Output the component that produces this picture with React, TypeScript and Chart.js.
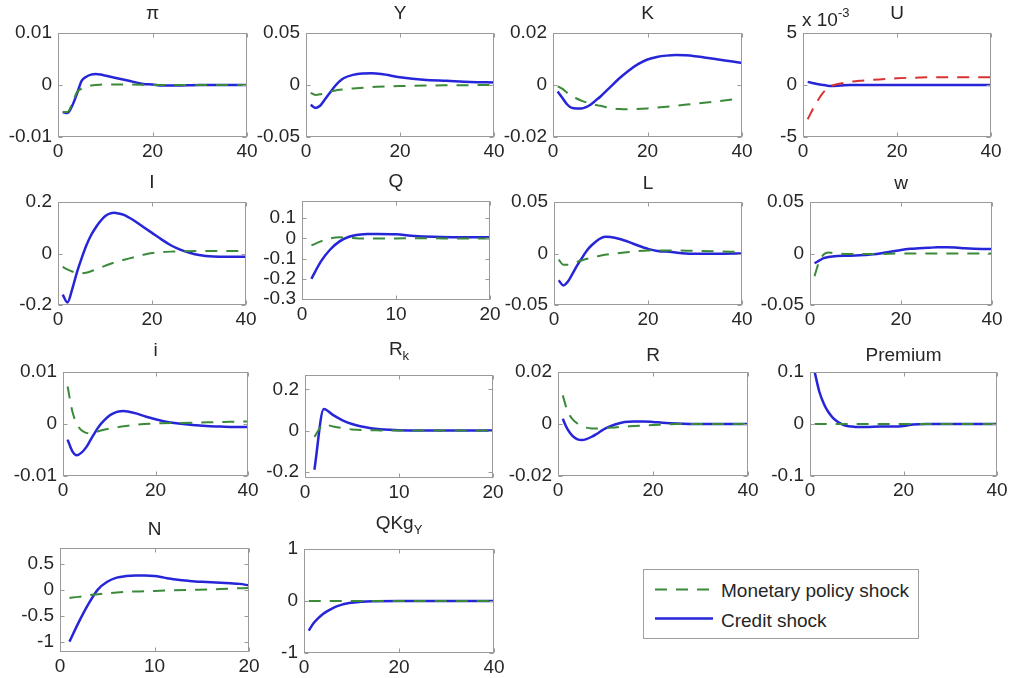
import React, { useEffect, useRef } from "react";
import { Chart, registerables } from "chart.js";

Chart.register(...registerables);

const FONT = '"Liberation Sans", Arial, Helvetica, sans-serif';
const BLUE = "#2626d8";
const GREEN = "#3a8a3a";
const RED = "#d83232";

// legend labels
const legendLabels = ["Monetary policy shock", "Credit shock"];

// x tick labels
const xTicks40 = [0, 20, 40];
const xTicks20 = [0, 10, 20];

// π
const piTicks = [-0.01, 0, 0.01];
const piCrX = [1, 2, 3, 4, 5, 6, 7, 8, 9, 10, 12, 14, 16, 18, 20, 22, 25, 30, 35, 40];
const piCrY = [-0.0052, -0.0054, -0.004, -0.0017, 0.0008, 0.0016, 0.002, 0.0021, 0.002, 0.0018, 0.0014, 0.001, 0.0006, 0.0002, 0.0001, -0.0001, -0.0001, 0, 0, 0];
const piMoX = [1, 2, 3, 4, 5, 6, 7, 8, 10, 15, 20, 30, 40];
const piMoY = [-0.0052, -0.0052, -0.0036, -0.0014, -0.0007, -0.0003, -0.0001, 0, 0.0001, 0.0001, 0, 0, 0];

// Y
const yTicksY = [-0.05, 0, 0.05];
const yCrX = [1, 2, 3, 4, 5, 6, 7, 8, 10, 12, 14, 16, 20, 25, 30, 35, 40];
const yCrY = [-0.019, -0.022, -0.02, -0.014, -0.008, -0.002, 0.003, 0.0065, 0.0097, 0.011, 0.0112, 0.0105, 0.0075, 0.005, 0.004, 0.003, 0.0025];
const yMoX = [1, 2, 3, 4, 6, 8, 10, 15, 20, 30, 40];
const yMoY = [-0.0075, -0.0095, -0.009, -0.008, -0.0055, -0.0042, -0.0033, -0.0018, -0.001, -0.0003, 0];

// K
const kTicks = [-0.02, 0, 0.02];
const kCrX = [1, 2, 3, 4, 5, 6, 7, 8, 9, 10, 12, 14, 16, 18, 20, 22, 24, 26, 28, 30, 32, 35, 38, 40];
const kCrY = [-0.0025, -0.005, -0.0075, -0.0088, -0.009, -0.009, -0.0085, -0.0075, -0.006, -0.0045, -0.001, 0.0025, 0.0055, 0.008, 0.0098, 0.0108, 0.0113, 0.0115, 0.0114, 0.0111, 0.0106, 0.0098, 0.009, 0.0085];
const kMoX = [1, 2, 3, 4, 5, 6, 8, 10, 12, 14, 16, 20, 25, 30, 35, 40];
const kMoY = [-0.0005, -0.0015, -0.003, -0.0042, -0.0052, -0.006, -0.0072, -0.008, -0.0088, -0.0092, -0.0093, -0.009, -0.0082, -0.0072, -0.0062, -0.0052];

// U (values in raw units, labels shown x 10^-3)
const uTicks = [-0.005, 0, 0.005];
const uCrX = [1, 2, 3, 4, 5, 6, 8, 10, 20, 30, 40];
const uCrY = [0.0003, 0.0002, 0.0001, 0.00003, -0.00005, -0.0001, -0.00005, 0, 0, 0, 0];
const uMoX = [1, 2, 3, 4, 5, 6, 7, 8, 10, 12, 15, 20, 25, 30, 35, 40];
const uMoY = [-0.0033, -0.0024, -0.0016, -0.0009, -0.0004, -0.0001, 0.00005, 0.00015, 0.0003, 0.0004, 0.0005, 0.00065, 0.00072, 0.00075, 0.00075, 0.00075];

// I
const iTicksI = [-0.2, 0, 0.2];
const iCrX = [1, 2, 3, 4, 5, 6, 7, 8, 9, 10, 11, 12, 13, 14, 16, 18, 20, 22, 24, 26, 28, 30, 33, 36, 40];
const iCrY = [-0.16, -0.19, -0.14, -0.075, -0.02, 0.03, 0.07, 0.1, 0.125, 0.145, 0.155, 0.158, 0.155, 0.15, 0.13, 0.105, 0.08, 0.055, 0.032, 0.015, 0.003, -0.006, -0.012, -0.013, -0.013];
const iMoX = [1, 2, 3, 4, 5, 6, 8, 10, 12, 15, 18, 20, 25, 30, 35, 40];
const iMoY = [-0.052, -0.062, -0.07, -0.075, -0.077, -0.075, -0.062, -0.048, -0.035, -0.02, -0.006, 0.002, 0.008, 0.01, 0.01, 0.01];

// Q
const qTicks = [-0.3, -0.2, -0.1, 0, 0.1];
const qCrX = [1, 2, 3, 4, 5, 6, 7, 8, 10, 12, 14, 16, 18, 20];
const qCrY = [-0.2, -0.115, -0.055, -0.015, 0.008, 0.018, 0.022, 0.022, 0.02, 0.012, 0.008, 0.006, 0.005, 0.005];
const qMoX = [1, 2, 3, 4, 5, 6, 8, 10, 12, 15, 20];
const qMoY = [-0.035, -0.015, 0, 0.005, 0.003, 0, 0, 0, 0.001, 0, 0];

// L
const lTicks = [-0.05, 0, 0.05];
const lCrX = [1, 2, 3, 4, 5, 6, 7, 8, 9, 10, 11, 12, 14, 16, 18, 20, 22, 25, 28, 32, 36, 40];
const lCrY = [-0.026, -0.031, -0.027, -0.019, -0.011, -0.004, 0.003, 0.008, 0.012, 0.015, 0.0163, 0.016, 0.014, 0.011, 0.0075, 0.0045, 0.0025, 0.0015, 0, -0.0003, -0.0002, 0];
const lMoX = [1, 2, 3, 4, 5, 6, 8, 10, 12, 15, 18, 20, 25, 30, 35, 40];
const lMoY = [-0.006, -0.011, -0.011, -0.01, -0.008, -0.0065, -0.004, -0.002, -0.0005, 0.001, 0.0025, 0.003, 0.003, 0.0025, 0.002, 0.0015];

// w
const wTicks = [-0.05, 0, 0.05];
const wCrX = [1, 2, 3, 4, 6, 8, 10, 12, 14, 16, 18, 20, 22, 24, 26, 28, 30, 32, 34, 36, 40];
const wCrY = [-0.0095, -0.007, -0.0045, -0.0035, -0.0025, -0.0022, -0.002, -0.0015, -0.0008, 0.0005, 0.002, 0.0035, 0.0045, 0.005, 0.0055, 0.006, 0.006, 0.0058, 0.005, 0.0045, 0.0043];
const wMoX = [1, 2, 3, 4, 5, 6, 8, 10, 15, 20, 25, 30, 35, 40];
const wMoY = [-0.022, -0.008, -0.001, 0.001, 0.0005, 0, -0.0005, -0.0005, -0.0005, 0, 0, 0, 0, 0];

// i
const smallITicks = [-0.01, 0, 0.01];
const siCrX = [1, 2, 3, 4, 5, 6, 7, 8, 9, 10, 11, 12, 13, 14, 16, 18, 20, 22, 25, 28, 31, 34, 37, 40];
const siCrY = [-0.003, -0.0052, -0.006, -0.0055, -0.0045, -0.003, -0.0015, -0.0002, 0.0008, 0.0016, 0.0021, 0.0024, 0.0025, 0.0024, 0.002, 0.0014, 0.0009, 0.0005, 0.0001, -0.0002, -0.0004, -0.0005, -0.0006, -0.0006];
const siMoX = [1, 2, 3, 4, 5, 6, 7, 8, 10, 12, 15, 20, 25, 30, 35, 40];
const siMoY = [0.0072, 0.0025, 0, -0.0012, -0.0017, -0.0018, -0.0016, -0.0013, -0.0009, -0.0006, -0.0002, 0.0001, 0.0002, 0.0003, 0.0004, 0.0005];

// R_k
const rkTicks = [-0.2, 0, 0.2];
const rkCrX = [1, 2, 3, 4, 5, 6, 7, 8, 9, 10, 12, 15, 20];
const rkCrY = [-0.19, 0.105, 0.075, 0.05, 0.032, 0.02, 0.012, 0.007, 0.004, 0.002, 0.001, 0, 0];
const rkMoX = [1, 2, 3, 4, 5, 6, 8, 10, 15, 20];
const rkMoY = [-0.03, 0.03, 0.02, 0.012, 0.006, 0.003, 0.001, 0, 0, 0];

// R
const rTicks = [-0.02, 0, 0.02];
const rCrX = [1, 2, 3, 4, 5, 6, 7, 8, 9, 10, 12, 14, 16, 18, 20, 22, 25, 30, 35, 40];
const rCrY = [0.002, -0.002, -0.0045, -0.0058, -0.0062, -0.0058, -0.005, -0.004, -0.0028, -0.0017, -0.0002, 0.0008, 0.001, 0.001, 0.0008, 0.0005, 0.0002, 0, 0, 0];
const rMoX = [1, 2, 3, 4, 5, 6, 7, 8, 10, 12, 15, 20, 25, 30, 40];
const rMoY = [0.011, 0.005, 0.002, 0.0003, -0.0008, -0.0014, -0.0017, -0.0017, -0.0015, -0.0013, -0.0009, -0.0004, 0, 0, 0];

// Premium
const pTicks = [-0.1, 0, 0.1];
const pCrX = [1, 2, 3, 4, 5, 6, 7, 8, 9, 10, 12, 15, 18, 20, 22, 25, 30, 35, 40];
const pCrY = [0.1, 0.062, 0.038, 0.022, 0.011, 0.004, -0.001, -0.004, -0.005, -0.006, -0.006, -0.005, -0.005, -0.004, -0.001, 0, 0, 0, 0];
const pMoX = [1, 2, 3, 5, 10, 20, 30, 40];
const pMoY = [0, 0, 0, 0, 0, 0, 0, 0];

// N
const nTicks = [-1, -0.5, 0, 0.5];
const nCrX = [1, 2, 3, 4, 5, 6, 7, 8, 9, 10, 11, 12, 13, 14, 15, 16, 17, 18, 19, 20];
const nCrY = [-1.0, -0.62, -0.28, 0.0, 0.15, 0.23, 0.26, 0.27, 0.27, 0.26, 0.23, 0.2, 0.18, 0.16, 0.15, 0.14, 0.13, 0.12, 0.11, 0.08];
const nMoX = [1, 2, 3, 4, 5, 6, 8, 10, 12, 14, 16, 18, 20];
const nMoY = [-0.16, -0.14, -0.11, -0.09, -0.07, -0.055, -0.035, -0.025, -0.015, -0.005, 0.005, 0.02, 0.03];

// QKg_Y
const qkTicks = [-1, 0, 1];
const qkCrX = [1, 2, 3, 4, 5, 6, 7, 8, 9, 10, 12, 15, 20, 30, 40];
const qkCrY = [-0.57, -0.43, -0.33, -0.25, -0.19, -0.14, -0.1, -0.07, -0.05, -0.035, -0.015, -0.005, 0, 0, 0];
const qkMoX = [1, 5, 10, 20, 30, 40];
const qkMoY = [0, 0, 0, 0, 0, 0];

type Series = { xs: number[]; ys: number[]; color: string; dash: number[]; width: number };
type PanelCfg = {
  title: string;
  sub?: string;
  box: [number, number, number, number];
  titleBase: number;
  xMax: number;
  xTicks: number[];
  yMin: number;
  yMax: number;
  yTicks: number[];
  mult?: number;
  exponent?: string;
  series: Series[];
};

const mon = (xs: number[], ys: number[], color = GREEN): Series => ({ xs, ys, color, dash: [12, 9], width: 2 });
const cr = (xs: number[], ys: number[]): Series => ({ xs, ys, color: BLUE, dash: [], width: 2.5 });

const panels: PanelCfg[] = [
  { title: "π", box: [58, 33, 247, 137], titleBase: 19, xMax: 40, xTicks: xTicks40, yMin: -0.01, yMax: 0.01, yTicks: piTicks, series: [mon(piMoX, piMoY), cr(piCrX, piCrY)] },
  { title: "Y", box: [306, 33, 494, 137], titleBase: 19, xMax: 40, xTicks: xTicks40, yMin: -0.05, yMax: 0.05, yTicks: yTicksY, series: [mon(yMoX, yMoY), cr(yCrX, yCrY)] },
  { title: "K", box: [553, 33, 742, 137], titleBase: 19, xMax: 40, xTicks: xTicks40, yMin: -0.02, yMax: 0.02, yTicks: kTicks, series: [mon(kMoX, kMoY), cr(kCrX, kCrY)] },
  { title: "U", box: [803, 33, 991, 137], titleBase: 19, xMax: 40, xTicks: xTicks40, yMin: -0.005, yMax: 0.005, yTicks: uTicks, mult: 1000, exponent: "-3", series: [mon(uMoX, uMoY, RED), cr(uCrX, uCrY)] },
  { title: "I", box: [58, 202, 246, 305], titleBase: 188, xMax: 40, xTicks: xTicks40, yMin: -0.2, yMax: 0.2, yTicks: iTicksI, series: [mon(iMoX, iMoY), cr(iCrX, iCrY)] },
  { title: "Q", box: [302, 201, 490, 300], titleBase: 187, xMax: 20, xTicks: xTicks20, yMin: -0.305, yMax: 0.185, yTicks: qTicks, series: [mon(qMoX, qMoY), cr(qCrX, qCrY)] },
  { title: "L", box: [554, 202, 742, 305], titleBase: 189, xMax: 40, xTicks: xTicks40, yMin: -0.05, yMax: 0.05, yTicks: lTicks, series: [mon(lMoX, lMoY), cr(lCrX, lCrY)] },
  { title: "w", box: [810, 202, 992, 305], titleBase: 189, xMax: 40, xTicks: xTicks40, yMin: -0.05, yMax: 0.05, yTicks: wTicks, series: [mon(wMoX, wMoY), cr(wCrX, wCrY)] },
  { title: "i", box: [63, 372, 248, 476], titleBase: 356, xMax: 40, xTicks: xTicks40, yMin: -0.01, yMax: 0.01, yTicks: smallITicks, series: [mon(siMoX, siMoY), cr(siCrX, siCrY)] },
  { title: "R", sub: "k", box: [305, 375, 493, 478], titleBase: 355, xMax: 20, xTicks: xTicks20, yMin: -0.23, yMax: 0.27, yTicks: rkTicks, series: [mon(rkMoX, rkMoY), cr(rkCrX, rkCrY)] },
  { title: "R", box: [558, 372, 748, 476], titleBase: 361, xMax: 40, xTicks: xTicks40, yMin: -0.02, yMax: 0.02, yTicks: rTicks, series: [mon(rMoX, rMoY), cr(rCrX, rCrY)] },
  { title: "Premium", box: [810, 372, 997, 476], titleBase: 361, xMax: 40, xTicks: xTicks40, yMin: -0.1, yMax: 0.1, yTicks: pTicks, series: [mon(pMoX, pMoY), cr(pCrX, pCrY)] },
  { title: "N", box: [60, 548, 249, 652], titleBase: 535, xMax: 20, xTicks: xTicks20, yMin: -1.2, yMax: 0.8, yTicks: nTicks, series: [mon(nMoX, nMoY), cr(nCrX, nCrY)] },
  { title: "QKg", sub: "Y", box: [304, 549, 494, 653], titleBase: 529, xMax: 40, xTicks: xTicks40, yMin: -1, yMax: 1, yTicks: qkTicks, series: [mon(qkMoX, qkMoY), cr(qkCrX, qkCrY)] },
];

const PADL = 62;
const PADT = 18;
const PADR = 22;
const PADB = 32;
const AXIS_COLOR = "#9a9a9a";
const TEXT_COLOR = "#262626";

const fmt = (v: number) => {
  const r = Number(v.toFixed(6));
  return Object.is(r, -0) ? "0" : String(r);
};

const boxPlugin = {
  id: "matlabBox",
  afterDatasetsDraw(chart: any) {
    const { ctx, chartArea: a, scales } = chart;
    const L = Math.round(a.left) + 0.5;
    const T = Math.round(a.top) + 0.5;
    const R = Math.round(a.right) - 0.5;
    const B = Math.round(a.bottom) - 0.5;
    ctx.save();
    ctx.strokeStyle = AXIS_COLOR;
    ctx.lineWidth = 1;
    ctx.setLineDash([]);
    ctx.strokeRect(L, T, R - L, B - T);
    const tl = 4;
    ctx.beginPath();
    scales.x.ticks.forEach((t: any) => {
      const px = Math.round(scales.x.getPixelForValue(t.value)) + 0.5;
      ctx.moveTo(px, B);
      ctx.lineTo(px, B - tl);
      ctx.moveTo(px, T);
      ctx.lineTo(px, T + tl);
    });
    scales.y.ticks.forEach((t: any) => {
      const py = Math.round(scales.y.getPixelForValue(t.value)) + 0.5;
      ctx.moveTo(L, py);
      ctx.lineTo(L + tl, py);
      ctx.moveTo(R, py);
      ctx.lineTo(R - tl, py);
    });
    ctx.stroke();
    ctx.restore();
  },
};

function Panel({ cfg }: { cfg: PanelCfg }) {
  const ref = useRef<HTMLCanvasElement | null>(null);
  const [L, T, R, B] = cfg.box;
  const W = R - L + PADL + PADR;
  const H = B - T + PADT + PADB;

  useEffect(() => {
    if (!ref.current) return;
    const mult = cfg.mult ?? 1;
    const chart = new Chart(ref.current, {
      type: "line",
      data: {
        datasets: cfg.series.map((s) => ({
          data: s.xs.map((x, i) => ({ x, y: s.ys[i] })),
          borderColor: s.color,
          borderWidth: s.width,
          borderDash: s.dash,
          pointRadius: 0,
          fill: false,
          cubicInterpolationMode: "monotone" as const,
        })),
      },
      options: {
        responsive: false,
        animation: false,
        devicePixelRatio: 1,
        events: [],
        layout: { padding: { left: 0, top: PADT, right: PADR, bottom: 0 } },
        plugins: { legend: { display: false }, tooltip: { enabled: false }, title: { display: false } },
        scales: {
          x: {
            type: "linear",
            min: 0,
            max: cfg.xMax,
            afterBuildTicks: (s: any) => {
              s.ticks = cfg.xTicks.map((v) => ({ value: v }));
            },
            afterFit: (s: any) => {
              s.height = PADB;
            },
            grid: { display: false, drawTicks: false },
            border: { display: false },
            ticks: {
              autoSkip: false,
              maxRotation: 0,
              padding: 3,
              color: TEXT_COLOR,
              font: { family: FONT, size: 19 },
              callback: (v: any) => fmt(Number(v)),
            },
          },
          y: {
            type: "linear",
            min: cfg.yMin,
            max: cfg.yMax,
            afterBuildTicks: (s: any) => {
              s.ticks = cfg.yTicks.map((v) => ({ value: v }));
            },
            afterFit: (s: any) => {
              s.width = PADL;
            },
            grid: { display: false, drawTicks: false },
            border: { display: false },
            ticks: {
              autoSkip: false,
              padding: 6,
              color: TEXT_COLOR,
              font: { family: FONT, size: 19 },
              callback: (v: any) => fmt(Number(v) * mult),
            },
          },
        },
      },
      plugins: [boxPlugin],
    });
    return () => chart.destroy();
  }, [cfg]);

  const cx = (L + R) / 2;
  return (
    <>
      <div style={{ position: "absolute", left: L - PADL, top: T - PADT, width: W, height: H }}>
        <canvas ref={ref} width={W} height={H} style={{ width: W, height: H, display: "block" }} />
      </div>
      <div
        style={{
          position: "absolute",
          left: cx - 100,
          width: 200,
          top: cfg.titleBase - 16,
          textAlign: "center",
          fontFamily: FONT,
          fontSize: 19,
          lineHeight: "19px",
          color: TEXT_COLOR,
          whiteSpace: "nowrap",
        }}
      >
        {cfg.title}
        {cfg.sub ? (
          <span style={{ fontSize: 13, position: "relative", top: 5 }}>{cfg.sub}</span>
        ) : null}
      </div>
      {cfg.exponent ? (
        <div
          style={{
            position: "absolute",
            left: L - 1,
            top: 10,
            fontFamily: FONT,
            fontSize: 19,
            lineHeight: "19px",
            color: TEXT_COLOR,
            whiteSpace: "nowrap",
          }}
        >
          x 10
          <span style={{ fontSize: 13, position: "relative", top: -9 }}>{cfg.exponent}</span>
        </div>
      ) : null}
    </>
  );
}

function Legend() {
  return (
    <div
      style={{
        position: "absolute",
        left: 643,
        top: 569,
        width: 276,
        height: 70,
        boxSizing: "border-box",
        border: "1px solid #a0a0a0",
        background: "#fff",
        fontFamily: FONT,
        fontSize: 19,
        color: TEXT_COLOR,
      }}
    >
      <svg width={276} height={70} style={{ position: "absolute", left: -1, top: -1 }}>
        <line x1={12} y1={20.5} x2={70} y2={20.5} stroke={GREEN} strokeWidth={2} strokeDasharray="12 9" />
        <line x1={12} y1={49.5} x2={70} y2={49.5} stroke={BLUE} strokeWidth={2.5} />
      </svg>
      <div style={{ position: "absolute", left: 77, top: 10, lineHeight: "21px", whiteSpace: "nowrap" }}>{legendLabels[0]}</div>
      <div style={{ position: "absolute", left: 77, top: 40, lineHeight: "21px", whiteSpace: "nowrap" }}>{legendLabels[1]}</div>
    </div>
  );
}

export default function App() {
  return (
    <div
      style={{
        position: "absolute",
        left: 0,
        top: 0,
        width: 1010,
        height: 678,
        background: "#fff",
        overflow: "hidden",
      }}
    >
      {panels.map((p, i) => (
        <Panel key={i} cfg={p} />
      ))}
      <Legend />
    </div>
  );
}
